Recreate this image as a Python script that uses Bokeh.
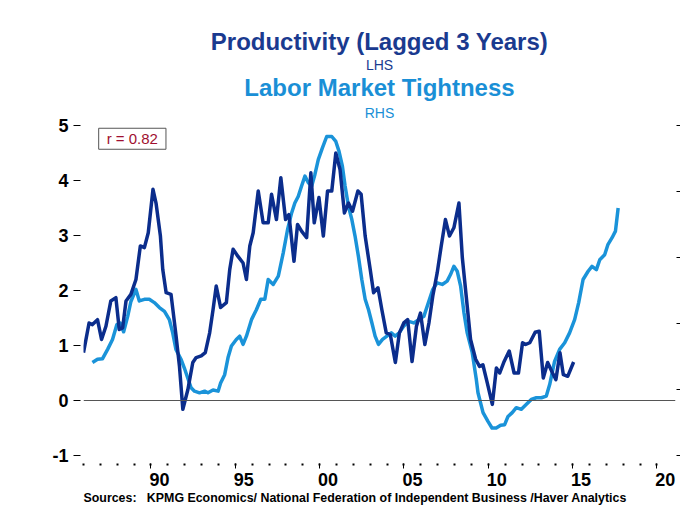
from bokeh.plotting import figure
from bokeh.models import Range1d, LinearAxis, FixedTicker, Label, Span, Title
from bokeh.embed import file_html
from bokeh.resources import INLINE

# Productivity (lagged 3 years), LHS, % y/y
prod_years = [1986.00, 1986.33, 1986.53, 1986.83, 1987.07, 1987.33, 1987.62, 1987.92, 1988.12, 1988.32,
              1988.52, 1988.81, 1989.11, 1989.37, 1989.61, 1989.84, 1990.12, 1990.30, 1990.56, 1990.70,
              1990.90, 1991.19, 1991.49, 1991.69, 1991.89, 1992.19, 1992.48, 1992.68, 1992.98, 1993.22,
              1993.48, 1993.68, 1993.87, 1994.13, 1994.47, 1994.67, 1994.87, 1995.16, 1995.46, 1995.66,
              1995.86, 1996.06, 1996.36, 1996.65, 1996.95, 1997.15, 1997.44, 1997.70, 1997.98, 1998.18,
              1998.48, 1998.69, 1998.93, 1999.23, 1999.48, 1999.68, 1999.96, 2000.22, 2000.47, 2000.72,
              2000.96, 2001.21, 2001.47, 2001.71, 2001.95, 2002.27, 2002.46, 2002.70, 2003.00, 2003.20,
              2003.46, 2003.69, 2003.95, 2004.19, 2004.49, 2004.73, 2004.99, 2005.22, 2005.48, 2005.74,
              2005.98, 2006.24, 2006.48, 2006.71, 2006.97, 2007.21, 2007.46, 2007.70, 2007.96, 2008.26,
              2008.46, 2008.69, 2008.95, 2009.25, 2009.48, 2009.68, 2009.94, 2010.24, 2010.48, 2010.68,
              2010.94, 2011.24, 2011.53, 2011.79, 2012.03, 2012.22, 2012.46, 2012.78, 2013.02, 2013.26,
              2013.52, 2013.81, 2014.01, 2014.25, 2014.45, 2014.71, 2015.06]
prod_values = [0.87, 1.41, 1.38, 1.47, 1.11, 1.35, 1.81, 1.87, 1.29, 1.32,
               1.81, 1.93, 2.20, 2.81, 2.78, 3.05, 3.84, 3.59, 2.99, 2.38,
               1.96, 1.93, 1.17, 0.62, -0.16, 0.20, 0.69, 0.78, 0.81, 0.87,
               1.23, 1.65, 2.08, 1.69, 1.78, 2.38, 2.75, 2.62, 2.50, 2.20,
               2.81, 3.05, 3.81, 3.23, 3.23, 3.75, 3.29, 4.05, 3.29, 3.38,
               2.53, 3.20, 3.08, 2.96, 4.14, 3.23, 3.69, 2.99, 3.81, 3.81,
               4.50, 4.20, 3.41, 3.59, 3.44, 3.81, 3.75, 2.99, 2.38, 1.96,
               2.05, 1.65, 1.23, 1.20, 0.69, 1.23, 1.41, 1.47, 0.71, 1.35,
               1.59, 1.02, 1.41, 1.90, 2.32, 2.81, 3.29, 2.99, 3.14, 3.59,
               2.60, 1.90, 1.11, 0.75, 0.62, 0.65, 0.32, -0.07, 0.59, 0.50,
               0.71, 0.90, 0.50, 0.50, 1.05, 1.02, 1.05, 1.24, 1.26, 0.41,
               0.69, 0.50, 0.38, 0.87, 0.47, 0.44, 0.70]

# Labor market tightness, RHS (expressed in LHS-equivalent units)
tight_years = [1986.53, 1986.83, 1987.13, 1987.43, 1987.72, 1987.98, 1988.18, 1988.38, 1988.62, 1988.81,
               1989.11, 1989.31, 1989.61, 1989.90, 1990.20, 1990.50, 1990.80, 1991.09, 1991.29, 1991.48,
               1991.78, 1991.98, 1992.18, 1992.38, 1992.58, 1992.88, 1993.18, 1993.38, 1993.68, 1993.98,
               1994.13, 1994.37, 1994.57, 1994.77, 1995.06, 1995.26, 1995.46, 1995.66, 1995.96, 1996.25,
               1996.51, 1996.75, 1996.95, 1997.25, 1997.55, 1997.84, 1998.10, 1998.34, 1998.53, 1998.73,
               1998.93, 1999.13, 1999.33, 1999.53, 1999.72, 1999.92, 2000.16, 2000.42, 2000.72, 2000.96,
               2001.15, 2001.35, 2001.51, 2001.71, 2001.91, 2002.10, 2002.30, 2002.50, 2002.70, 2002.90,
               2003.10, 2003.29, 2003.49, 2003.73, 2003.99, 2004.25, 2004.48, 2004.72, 2004.98, 2005.28,
               2005.58, 2005.88, 2006.18, 2006.48, 2006.71, 2006.97, 2007.27, 2007.56, 2007.76, 2007.96,
               2008.16, 2008.36, 2008.56, 2008.75, 2009.05, 2009.29, 2009.39, 2009.69, 2009.98, 2010.22,
               2010.47, 2010.73, 2010.97, 2011.17, 2011.42, 2011.66, 2011.96, 2012.26, 2012.55, 2012.85,
               2013.15, 2013.44, 2013.64, 2013.93, 2014.23, 2014.53, 2014.82, 2015.12, 2015.36, 2015.62,
               2015.92, 2016.15, 2016.41, 2016.61, 2016.90, 2017.10, 2017.34, 2017.54, 2017.70]
tight_values = [0.69, 0.75, 0.76, 0.93, 1.11, 1.38, 1.41, 1.25, 1.53, 1.80,
                2.02, 1.81, 1.84, 1.84, 1.78, 1.69, 1.62, 1.47, 1.23, 0.93,
                0.75, 0.59, 0.41, 0.23, 0.17, 0.14, 0.17, 0.14, 0.19, 0.17,
                0.32, 0.47, 0.78, 0.99, 1.11, 1.17, 1.02, 1.17, 1.47, 1.65,
                1.84, 1.84, 2.20, 2.11, 2.26, 2.68, 3.11, 3.41, 3.59, 3.71,
                3.90, 4.08, 3.96, 3.90, 4.11, 4.38, 4.59, 4.80, 4.80, 4.71,
                4.53, 4.26, 3.90, 3.53, 3.29, 2.99, 2.62, 2.20, 1.84, 1.65,
                1.41, 1.17, 1.02, 1.11, 1.17, 1.23, 1.17, 1.23, 1.35, 1.44,
                1.41, 1.47, 1.53, 1.81, 2.02, 2.14, 2.11, 2.17, 2.29, 2.44,
                2.35, 2.08, 1.59, 1.23, 0.87, 0.38, 0.14, -0.22, -0.38, -0.50,
                -0.50, -0.45, -0.44, -0.29, -0.22, -0.13, -0.16, -0.07, 0.02, 0.05,
                0.05, 0.08, 0.29, 0.71, 0.93, 1.05, 1.23, 1.47, 1.78, 2.20,
                2.35, 2.44, 2.38, 2.56, 2.65, 2.84, 2.96, 3.08, 3.50]

x_tick_years = [1990, 1995, 2000, 2005, 2010, 2015, 2020]
x_tick_labels = ["90", "95", "00", "05", "10", "15", "20"]
minor_years = list(range(1986, 2021))
y_ticks_left = [-1, 0, 1, 2, 3, 4, 5]
y_tick_labels_left = ["-1", "0", "1", "2", "3", "4", "5"]
y_ticks_right = [0, 1, 2, 3, 4, 5]

DARK = "#0b2d8c"
LIGHT = "#1a93d9"
FONT = "Liberation Sans"

p = figure(width=680, height=510, output_backend="svg", toolbar_location=None,
           x_range=Range1d(1986.0, 2021.1), y_range=Range1d(-1, 5),
           x_axis_location=None, y_axis_location=None,
           min_border_left=83, min_border_right=5, min_border_top=125, min_border_bottom=55)
p.outline_line_color = None
p.xgrid.visible = False
p.ygrid.visible = False
p.background_fill_color = "white"
p.border_fill_color = "white"

# left axis
ax_l = LinearAxis(ticker=FixedTicker(ticks=y_ticks_left))
ax_l.major_label_overrides = {t: s for t, s in zip(y_ticks_left, y_tick_labels_left)}
ax_l.axis_line_color = None
ax_l.major_tick_in = -3
ax_l.major_tick_out = 10
ax_l.major_tick_line_color = "black"
ax_l.minor_tick_line_color = None
ax_l.major_label_standoff = 5
ax_l.major_label_text_font = FONT
ax_l.major_label_text_font_style = "bold"
ax_l.major_label_text_font_size = "18px"
ax_l.major_label_text_color = "black"
p.add_layout(ax_l, "left")

# right axis (unlabelled RHS scale)
p.extra_y_ranges = {"rhs": Range1d(0, 5)}
ax_r = LinearAxis(y_range_name="rhs", ticker=FixedTicker(ticks=y_ticks_right))
ax_r.axis_line_color = None
ax_r.major_tick_in = -1
ax_r.major_tick_out = 5
ax_r.major_tick_line_color = "black"
ax_r.minor_tick_line_color = None
ax_r.major_label_standoff = 0
ax_r.major_label_text_color = None
ax_r.major_label_text_font_size = "1px"
p.add_layout(ax_r, "right")

# bottom axis: tick marks (year dots, 5-year marks)
ax_t = LinearAxis(ticker=FixedTicker(ticks=x_tick_years, minor_ticks=minor_years))
ax_t.axis_line_color = None
ax_t.major_tick_in = -8
ax_t.major_tick_out = 13
ax_t.major_tick_line_width = 1
ax_t.minor_tick_in = -8
ax_t.minor_tick_out = 10
ax_t.minor_tick_line_width = 2
ax_t.minor_tick_line_color = "black"
ax_t.major_label_standoff = 0
ax_t.major_label_text_color = None
ax_t.major_label_text_font_size = "1px"
p.add_layout(ax_t, "below")

# bottom axis: year labels centred in the year
label_pos = [y + 0.5 for y in x_tick_years]
ax_b = LinearAxis(ticker=FixedTicker(ticks=label_pos, minor_ticks=[]))
ax_b.major_label_overrides = {pos: lab for pos, lab in zip(label_pos, x_tick_labels)}
ax_b.axis_line_color = None
ax_b.major_tick_line_color = None
ax_b.minor_tick_line_color = None
ax_b.major_tick_in = 0
ax_b.major_tick_out = 0
ax_b.major_label_standoff = 4
ax_b.major_label_text_font = FONT
ax_b.major_label_text_font_style = "bold"
ax_b.major_label_text_font_size = "18px"
ax_b.major_label_text_color = "black"
p.add_layout(ax_b, "below")

# sources line
p.add_layout(Title(text="Sources:\u00a0\u00a0\u00a0KPMG Economics/ National Federation of Independent Business /Haver Analytics",
                   align="left", text_font=FONT, text_font_style="bold", text_font_size="12.4px",
                   text_color="black", standoff=0), "below")

# titles, stacked from the plot upward
p.add_layout(Title(text="RHS", align="center", text_font=FONT, text_font_style="normal",
                   text_font_size="14px", text_color="#1a8fd6", standoff=9), "above")
p.add_layout(Title(text="Labor Market Tightness", align="center", text_font=FONT, text_font_style="bold",
                   text_font_size="24px", text_color="#1a8fd6", standoff=-5), "above")
p.add_layout(Title(text="LHS", align="center", text_font=FONT, text_font_style="normal",
                   text_font_size="14px", text_color="#1a3a8f", standoff=4), "above")
p.add_layout(Title(text="Productivity (Lagged 3 Years)", align="center", text_font=FONT, text_font_style="bold",
                   text_font_size="24px", text_color="#1a3a8f", standoff=-4), "above")

p.add_layout(Span(location=0, dimension="width", line_color="#555555", line_width=1))

p.line(tight_years, tight_values, line_color=LIGHT, line_width=3.5, line_join="round")
p.line(prod_years, prod_values, line_color=DARK, line_width=3.5, line_join="round")

p.add_layout(Label(x=1986.9, y=4.95, text="r = 0.82", text_align="left", text_baseline="top",
                   text_font=FONT, text_font_size="15px", text_color="#a01030",
                   border_line_color="#555555", border_line_width=1,
                   background_fill_color="white", padding=(8, 2)))

open("out.html", "w").write(file_html(p, INLINE))
